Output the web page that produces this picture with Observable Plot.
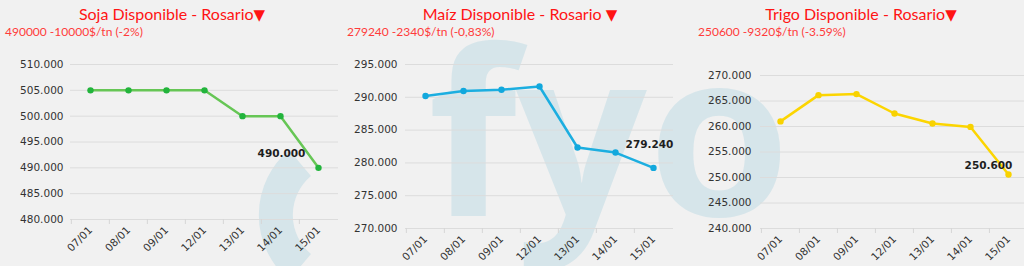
<!DOCTYPE html>
<html><head><meta charset="utf-8">
<script src="https://cdn.jsdelivr.net/npm/d3@7"></script>
<script src="https://cdn.jsdelivr.net/npm/@observablehq/plot@0.6"></script>
<style>
html,body{margin:0;padding:0}
body{background:#f1f1f1;width:1024px;height:266px;overflow:hidden;position:relative;font-family:"DejaVu Sans",sans-serif}
#wm{position:absolute;left:0;top:0;z-index:0}
.panel{position:absolute;top:0;height:266px;z-index:1}
.title{position:absolute;top:4px;left:0;width:100%;text-align:center;color:#ff1414;font-family:Lato,sans-serif;font-size:16px;white-space:nowrap}
.title .tri{font-family:"DejaVu Sans";font-size:15px}
.sub{position:absolute;top:24px;color:#ff3b3b;font-family:Lato,sans-serif;font-size:12px;white-space:nowrap}
.chart{position:absolute;top:40px;left:0}
</style>
</head><body>
<svg id="wm" width="1024" height="266">
  <path d="M 300 163 A 68 68 0 0 0 300 267" fill="none" stroke="#d6e5ea" stroke-width="34"/>
  <g fill="#d6e5ea" font-family="Open Sans" font-weight="700" font-size="230">
    <text x="428" y="216">f</text>
    <text x="516" y="216">y</text>
    <text x="648" y="216">o</text>
  </g>
</svg>
<div id="root"></div>
<script>
const dates = ["07/01","08/01","09/01","12/01","13/01","14/01","15/01"];
const sojaValues  = [505000,505000,505000,505000,500000,500000,490000];
const maizValues  = [290200,290950,291150,291650,282350,281580,279240];
const trigoValues = [261000,266150,266350,262550,260600,259920,250600];
const sojaTicks  = [480000,485000,490000,495000,500000,505000,510000];
const maizTicks  = [270000,275000,280000,285000,290000,295000];
const trigoTicks = [240000,245000,250000,255000,260000,265000,270000];
const titles = ["Soja Disponible - Rosario","Maíz Disponible - Rosario ","Trigo Disponible - Rosario"];
const subtitles = ["490000 -10000$/tn (-2%)","279240 -2340$/tn (-0,83%)","250600 -9320$/tn (-3.59%)"];
const lineColors = ["#66c655","#1caee0","#fcd500"];
const dotColors  = ["#22b43c","#12a8dd","#f8d200"];

const fmt = d => d3.format(",")(d).replace(/,/g,".");

const panels = [
  {left:0,   width:340, values:sojaValues,  ticks:sojaTicks,  ml:70, mr:2, mt:24, mb:47, pad:7, dx:-37, dy:-14, titleDx:2,  subLeft:5},
  {left:340, width:340, values:maizValues,  ticks:maizTicks,  ml:65, mr:7, mt:24, mb:38, pad:8, dx:-4,  dy:-23, titleDx:10, subLeft:7},
  {left:684, width:343, values:trigoValues, ticks:trigoTicks, ml:76, mr:0, mt:35, mb:38, pad:9, dx:-20, dy:-9,  titleDx:7,  subLeft:14}
];

const root = document.getElementById("root");
panels.forEach((p, i) => {
  const data = dates.map((d, j) => ({date: d, value: p.values[j]}));
  const last = [data[data.length - 1]];
  const height = 226;
  const bw = (p.width - p.ml - p.mr) / dates.length;
  const div = document.createElement("div");
  div.className = "panel";
  div.style.left = p.left + "px";
  div.style.width = p.width + "px";
  const t = document.createElement("div");
  t.className = "title";
  t.style.left = p.titleDx + "px";
  t.style.width = "340px";
  t.textContent = titles[i];
  const tri = document.createElement("span");
  tri.className = "tri";
  tri.textContent = "\u25BC";
  t.appendChild(tri);
  const s = document.createElement("div");
  s.className = "sub";
  s.style.left = p.subLeft + "px";
  s.textContent = subtitles[i];
  const chart = Plot.plot({
    width: p.width, height,
    marginLeft: p.ml, marginRight: p.mr, marginTop: p.mt, marginBottom: p.mb,
    style: {background: "transparent", fontFamily: "DejaVu Sans", fontSize: "10.5px", color: "#333", overflow: "visible"},
    x: {type: "band", domain: dates, padding: 0},
    y: {domain: [p.ticks[0], p.ticks[p.ticks.length - 1]]},
    marks: [
      Plot.gridY(p.ticks, {stroke: "#dcdcdc", strokeOpacity: 1, strokeWidth: 1}),
      Plot.axisX({tickSize: 5, text: null, dx: -bw / 2, stroke: "#d6d6d6", label: null}),
      Plot.axisY(p.ticks, {tickSize: 0, tickPadding: p.pad, tickFormat: fmt, label: null, fill: "#333"}),
      Plot.axisX({tickSize: 0, tickRotate: -45, tickPadding: 9, label: null, fill: "#333"}),
      Plot.line(data, {x: "date", y: "value", stroke: lineColors[i], strokeWidth: 2.5}),
      Plot.dot(data, {x: "date", y: "value", r: 3.2, fill: dotColors[i]}),
      Plot.text(last, {x: "date", y: "value", text: d => fmt(d.value), dx: p.dx, dy: p.dy, fontWeight: "bold", fontSize: 10.5, fill: "#1e1e1e"})
    ]
  });
  chart.classList.add("chart");
  div.appendChild(t);
  div.appendChild(s);
  div.appendChild(chart);
  root.appendChild(div);
});
</script>
</body></html>
